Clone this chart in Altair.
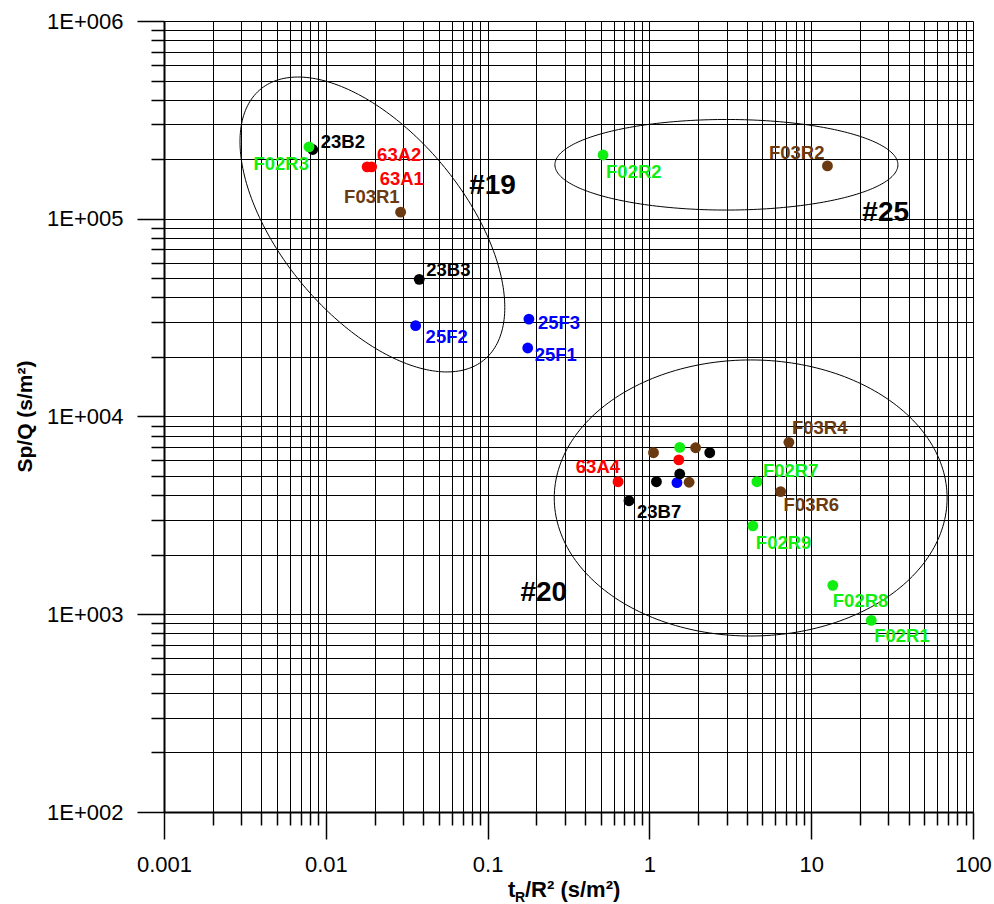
import altair as alt
import pandas as pd
import numpy as np

# ---------------- data ----------------
well = ["23B2", "F02R3", "63A2", "63A1", "F03R1", "23B3", "25F2", "25F3", "25F1",
        "F02R2", "F03R2", "", "", "", "", "", "", "", "63A4", "", "", "23B7",
        "F02R7", "F03R4", "F03R6", "F02R9", "F02R8", "F02R1"]
group = ["23B", "F02", "63A", "63A", "F03", "23B", "25F", "25F", "25F",
         "F02", "F03", "F03", "F02", "F03", "23B", "63A", "25F", "23B", "63A", "23B", "F03", "23B",
         "F02", "F03", "F03", "F02", "F02", "F02"]
tR_R2 = [0.0083, 0.00787, 0.0180, 0.0192, 0.0290, 0.0378, 0.0359, 0.180, 0.177,
         0.517, 12.6, 1.06, 1.54, 1.93, 2.36, 1.52, 1.48, 1.54, 0.640, 1.105, 1.76, 0.748,
         4.62, 7.28, 6.47, 4.36, 13.6, 23.5]
sp_q = [2.24e5, 2.31e5, 1.83e5, 1.83e5, 1.08e5, 4.94e4, 2.88e4, 3.11e4, 2.22e4,
        2.10e5, 1.85e5, 6.56e3, 6.98e3, 6.95e3, 6.56e3, 6.03e3, 4.63e3, 5.12e3, 4.68e3, 4.68e3, 4.65e3, 3.75e3,
        4.68e3, 7.40e3, 4.17e3, 2.80e3, 1.40e3, 931]

# label placement (pixel offsets from the point) -- styling only
label_dx = [8, 0, 10, 8, -1, 7, 10, 9, 7, 3, -3, 0, 0, 0, 0, 0, 0, 0, 2, 0, 0, 8, 6, 3, 3, 3, 0, 3]
label_dy = [-7, 17, -12, 12, -15, -9, 11, 4, 7, 17, -13, 0, 0, 0, 0, 0, 0, 0, -15, 0, 0, 11, -11, -14, 13, 17, 16, 16]
label_align = ["left", "right", "left", "left", "right", "left", "left", "left", "left",
               "left", "right", "left", "left", "left", "left", "left", "left", "left", "right", "left", "left", "left",
               "left", "left", "left", "left", "left", "left"]

group_colors = {"23B": "#000000", "F02": "#11EE11", "63A": "#FF0000", "F03": "#6B3A10", "25F": "#0000FF"}

# zone ellipses (log10 space): name, centre x, centre y, semi-axis a, semi-axis b, angle (deg)
zone_name = ["#19", "#25", "#20"]
zone_cx = [-1.712, 0.476, 0.626]
zone_cy = [4.971, 5.273, 3.588]
zone_a = [0.980, 1.060, 1.214]
zone_b = [0.515, 0.229, 0.698]
zone_angle = [-40.3, 0.0, 0.0]
zone_label_x = [0.0769, 20.7, 0.1596]
zone_label_y = [1.464e5, 1.073e5, 1276]

# ---------------- tables ----------------
pts = pd.DataFrame({
    "well": well, "group": group, "x": tR_R2, "y": sp_q,
    "dx": label_dx, "dy": label_dy, "align": label_align,
})
pts["color"] = pts["group"].map(group_colors)

rows = []
t = np.linspace(0, 2 * np.pi, 241)
for i, nm in enumerate(zone_name):
    phi = np.deg2rad(zone_angle[i])
    ex = zone_cx[i] + zone_a[i] * np.cos(t) * np.cos(phi) - zone_b[i] * np.sin(t) * np.sin(phi)
    ey = zone_cy[i] + zone_a[i] * np.cos(t) * np.sin(phi) + zone_b[i] * np.sin(t) * np.cos(phi)
    for k in range(len(t)):
        rows.append({"zone": nm, "k": k, "x": 10 ** ex[k], "y": 10 ** ey[k]})
ell = pd.DataFrame(rows)

zones = pd.DataFrame({"name": zone_name, "x": zone_label_x, "y": zone_label_y})

# ---------------- axes ----------------
FONT = "Liberation Sans"
W, H = 809, 791
PX_DEC_X = W / 5.0
PX_DEC_Y = H / 4.0
x_vals = [round(k * 10.0 ** e, 6) for e in range(-3, 2) for k in range(1, 10)] + [100.0]
y_vals = [float(k * 10 ** e) for e in range(2, 6) for k in range(1, 10)] + [1e6]
major = "abs(log(datum.value)/LN10 - round(log(datum.value)/LN10)) < 0.001"

x_scale = alt.Scale(type="log", domain=[0.001, 100], nice=False)
y_scale = alt.Scale(type="log", domain=[100, 1e6], nice=False)

common_axis = dict(
    domainColor="black", domainWidth=2,
    tickColor="black", tickWidth=1.5,
    tickSize={"condition": {"test": major, "value": 27}, "value": 13},
    grid=True, gridColor="black", gridWidth=1, gridOpacity=1,
    labelFont=FONT, labelFontSize=22, labelColor="black",
)

x_axis = alt.Axis(values=x_vals, labelExpr=f"({major}) ? format(datum.value, '~g') : ''",
                  labelPadding=15, labelFlush=False, labelOverlap=False, **common_axis)
y_axis = alt.Axis(values=y_vals, labelExpr=f"({major}) ? '1E+00' + round(log(datum.value)/LN10) : ''",
                  labelPadding=14, labelOverlap=False,
                  title="Sp/Q (s/m²)", titleFont=FONT, titleFontSize=21, titleFontWeight="bold",
                  titleColor="black", titleX=-133, titleY=395, titleAngle=270,
                  titleAlign="center", titleBaseline="alphabetic", **common_axis)

X = alt.X("x:Q", scale=x_scale, axis=x_axis, title=None)
Y = alt.Y("y:Q", scale=y_scale, axis=y_axis)

ellipses = alt.Chart(ell).mark_line(color="black", strokeWidth=1).encode(
    x=alt.X("x:Q", scale=x_scale), y=alt.Y("y:Q", scale=y_scale),
    detail="zone:N", order="k:Q")

points = alt.Chart(pts).mark_circle(size=118, opacity=1).encode(
    x=X, y=Y, color=alt.Color("color:N", scale=None))


def labels(al):
    return alt.Chart(pts).transform_filter(
        f"datum.well != '' && datum.align == '{al}'"
    ).transform_calculate(
        lx=f"datum.x * pow(10, datum.dx / {PX_DEC_X})",
        ly=f"datum.y * pow(10, -datum.dy / {PX_DEC_Y})",
    ).mark_text(align=al, baseline="middle", font=FONT, fontSize=18.5, fontWeight="bold").encode(
        x=alt.X("lx:Q", scale=x_scale), y=alt.Y("ly:Q", scale=y_scale),
        text="well:N", color=alt.Color("color:N", scale=None))


zone_text = alt.Chart(zones).mark_text(align="left", baseline="middle", font=FONT,
                                        fontSize=28, fontWeight="bold", color="black").encode(
    x=alt.X("x:Q", scale=x_scale), y=alt.Y("y:Q", scale=y_scale), text="name:N")

one = alt.Data(values=[{"a": 1}])
t_main = alt.Chart(one).mark_text(text="t", align="left", baseline="alphabetic", font=FONT,
                                  fontSize=22, fontWeight="bold", color="black").encode(
    x=alt.value(344), y=alt.value(876))
t_sub = alt.Chart(one).mark_text(text="R", align="left", baseline="alphabetic", font=FONT,
                                 fontSize=14, fontWeight="bold", color="black").encode(
    x=alt.value(351), y=alt.value(881))
t_rest = alt.Chart(one).mark_text(text="/R² (s/m²)", align="left", baseline="alphabetic", font=FONT,
                                  fontSize=22, fontWeight="bold", color="black").encode(
    x=alt.value(361), y=alt.value(876))

chart = alt.layer(
    points, ellipses, labels("left"), labels("right"), zone_text, t_main, t_sub, t_rest
).properties(
    width=W, height=H,
    autosize=alt.AutoSizeParams(type="none"),
    padding={"left": 164, "top": 21, "right": 21, "bottom": 92},
).configure_view(stroke=None).configure(background="white")

chart.save("out.html", embed_options={"renderer": "svg", "actions": False})
